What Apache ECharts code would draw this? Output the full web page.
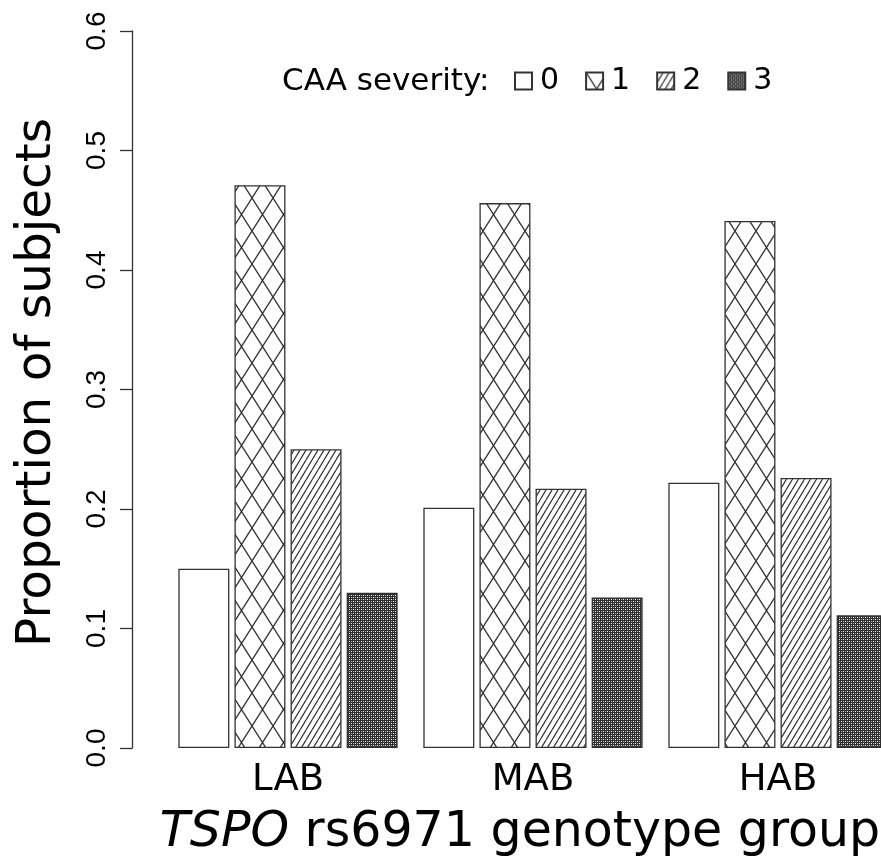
<!DOCTYPE html>
<html>
<head>
<meta charset="utf-8">
<script src="https://cdn.jsdelivr.net/npm/echarts@6/dist/echarts.min.js"></script>
<style>
  html, body { margin: 0; padding: 0; background: #fff; }
  #chart { width: 881px; height: 867px; }
</style>
</head>
<body>
<div id="chart"></div>
<script>
// genotype groups on the x axis
var groups = ['LAB', 'MAB', 'HAB'];
// CAA severity levels (legend)
var severities = ['0', '1', '2', '3'];
// proportion of subjects per severity, one value per group
var sev0 = [0.150, 0.201, 0.222];
var sev1 = [0.471, 0.456, 0.441];
var sev2 = [0.250, 0.217, 0.226];
var sev3 = [0.130, 0.126, 0.111];
var yTicks = [0, 0.1, 0.2, 0.3, 0.4, 0.5, 0.6];

// small canvas tiles used as fill patterns
function makeTile(w, h, draw) {
    var c = document.createElement('canvas');
    c.width = w;
    c.height = h;
    var ctx = c.getContext('2d');
    ctx.fillStyle = '#fff';
    ctx.fillRect(0, 0, w, h);
    draw(ctx, w, h);
    return { image: c, repeat: 'repeat' };
}

var plainFill = '#ffffff';

// diamond cross hatch
var crossFill = makeTile(21, 33, function (ctx, w, h) {
    ctx.strokeStyle = '#333';
    ctx.lineWidth = 1.3;
    ctx.beginPath();
    ctx.moveTo(0, 0); ctx.lineTo(w, h);
    ctx.moveTo(w, 0); ctx.lineTo(0, h);
    ctx.stroke();
});

// dense "/" hatch
var hatchFill = makeTile(6, 10, function (ctx, w, h) {
    ctx.strokeStyle = '#333';
    ctx.lineWidth = 1.2;
    ctx.beginPath();
    ctx.moveTo(-w, h); ctx.lineTo(0, 0);
    ctx.moveTo(0, h); ctx.lineTo(w, 0);
    ctx.moveTo(w, h); ctx.lineTo(2 * w, 0);
    ctx.stroke();
});

// very fine dots on dark
var dotFill = makeTile(4, 4, function (ctx) {
    ctx.fillStyle = '#2e2e2e';
    ctx.fillRect(0, 0, 4, 4);
    ctx.fillStyle = '#fff';
    ctx.fillRect(1, 1, 1, 1);
    ctx.fillRect(3, 3, 1, 1);
    ctx.fillStyle = '#aaa';
    ctx.fillRect(1, 3, 1, 1);
    ctx.fillRect(3, 1, 1, 1);
});

var fills = [plainFill, crossFill, hatchFill, dotFill];
var values = [sev0, sev1, sev2, sev3];

var font = 'DejaVu Sans';

var series = [];
for (var i = 0; i < severities.length; i++) {
    series.push({
        name: severities[i],
        type: 'bar',
        data: values[i],
        barWidth: 51,
        barGap: '10%',
        itemStyle: {
            color: fills[i],
            borderColor: '#333',
            borderWidth: 1.3
        }
    });
}

var myChart = echarts.init(document.getElementById('chart'));

var option = {
    animation: false,
    backgroundColor: '#fff',
    title: {
        text: 'CAA severity:',
        left: 277,
        top: 61,
        textStyle: {
            fontFamily: font,
            fontSize: 31,
            fontWeight: 'normal',
            color: '#000'
        }
    },
    legend: {
        data: severities,
        left: 509,
        top: 61,
        icon: 'rect',
        itemWidth: 17,
        itemHeight: 17,
        itemGap: 26,
        textStyle: {
            fontFamily: font,
            fontSize: 30,
            color: '#000',
            padding: [0, 0, 0, 3]
        }
    },
    grid: {
        left: 165.5,
        right: -19.5,
        top: 31,
        bottom: 119,
        containLabel: false,
        outerBoundsMode: 'none'
    },
    xAxis: {
        type: 'category',
        data: groups,
        axisLine: { show: false },
        axisTick: { show: false },
        axisLabel: {
            margin: 14,
            fontFamily: font,
            fontSize: 37,
            color: '#000'
        },
        name: '{i|TSPO} rs6971 genotype group',
        nameLocation: 'middle',
        nameGap: 61,
        nameTextStyle: {
            fontFamily: font,
            fontSize: 49,
            color: '#000',
            padding: [0, 26, 0, 0],
            rich: {
                i: {
                    fontFamily: font,
                    fontSize: 49,
                    fontStyle: 'italic',
                    color: '#000'
                }
            }
        }
    },
    yAxis: {
        type: 'value',
        min: yTicks[0],
        max: yTicks[yTicks.length - 1],
        interval: 0.1,
        offset: 33.5,
        axisLine: { show: true, lineStyle: { color: '#333', width: 1.3 } },
        axisTick: { show: true, length: 12, lineStyle: { color: '#333', width: 1.3 } },
        splitLine: { show: false },
        axisLabel: {
            rotate: 90,
            margin: 21,
            fontFamily: 'Liberation Sans Narrow, Liberation Sans',
            fontSize: 28,
            color: '#000',
            formatter: function (v) { return v.toFixed(1); }
        },
        name: 'Proportion of subjects',
        nameLocation: 'middle',
        nameRotate: 90,
        nameGap: 70,
        nameTextStyle: {
            fontFamily: font,
            fontSize: 48.5,
            color: '#000',
            padding: [0, 0, 0, 14]
        }
    },
    series: series
};

myChart.setOption(option);
</script>
</body>
</html>
